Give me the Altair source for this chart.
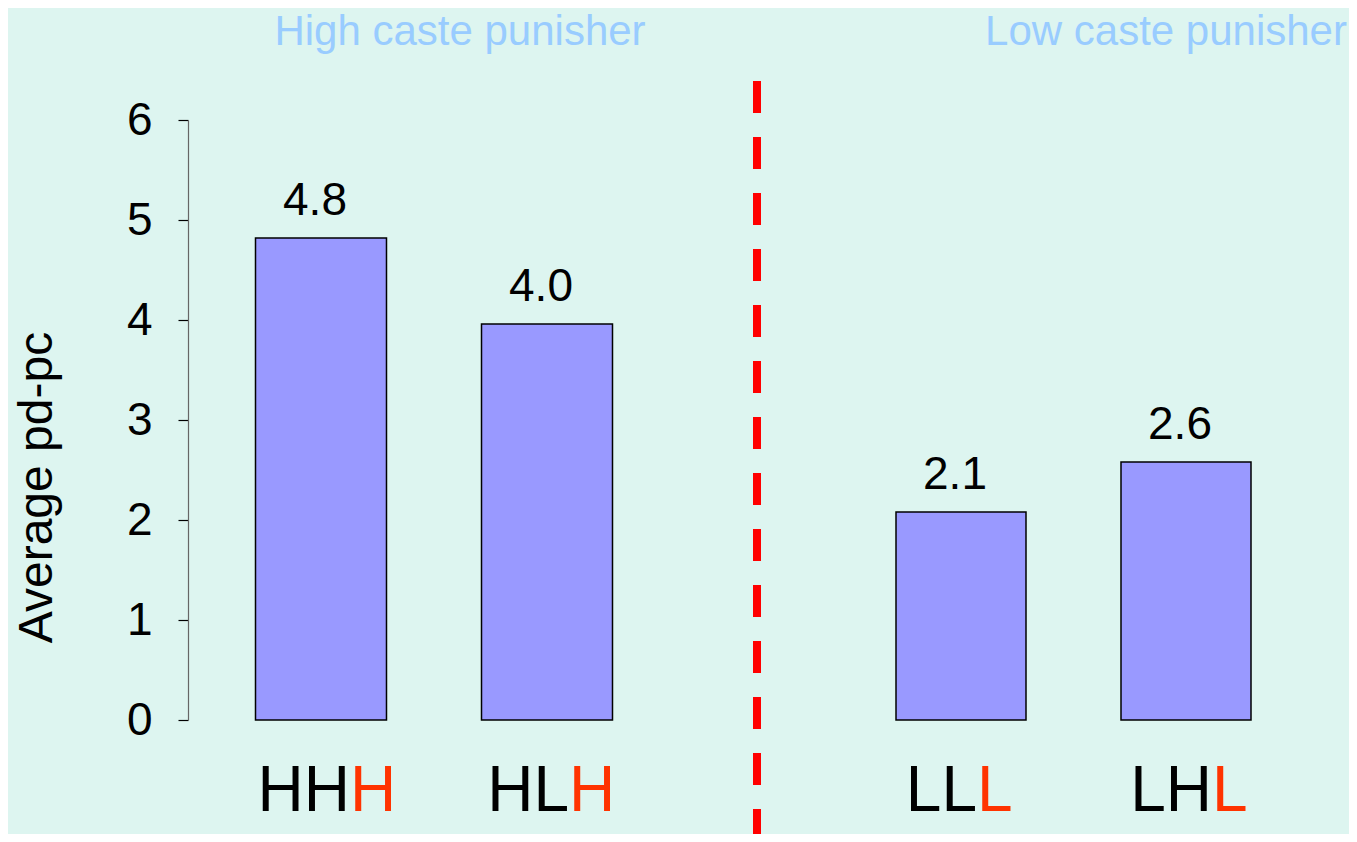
import altair as alt
import pandas as pd

# ---- data ----
groups = ["High caste punisher", "High caste punisher", "Low caste punisher", "Low caste punisher"]
bars = ["HHH", "HLH", "LLL", "LHL"]
values = [4.82, 3.96, 2.08, 2.58]
prefixes = ["HH", "HL", "LL", "LH"]
suffixes = ["H", "H", "L", "L"]
group_titles = ["High caste punisher", "Low caste punisher"]
y_ticks = [0, 1, 2, 3, 4, 5, 6]

df = pd.DataFrame({"group": groups, "bar": bars, "value": values,
                   "prefix": prefixes, "suffix": suffixes})

FONT = "Liberation Sans"
BG = "#ddf5f0"
W, H = 1161, 600

# band-scale layout for each half (pixel range of the band scale, padding)
scale_opts = {
    "High caste punisher": dict(range=[67.5, 424.5], paddingInner=0.4204, paddingOuter=0),
    "Low caste punisher": dict(range=[708, 1063], paddingInner=0.4222, paddingOuter=0),
}
split_dx = {"HHH": 29, "HLH": 22, "LLL": 16, "LHL": 26}

y_axis = alt.Axis(values=y_ticks, format="d", grid=False, tickSize=10, tickColor="black",
                  domainColor="#666666", domainWidth=1.2, tickWidth=1.2,
                  labelFontSize=46, labelFont=FONT, labelColor="black",
                  labelPadding=26, titleFontSize=48, titleFont=FONT,
                  titleFontWeight="normal", titleColor="black",
                  titleX=-151, titleY=367, titleAngle=-90,
                  titleAlign="center", titleBaseline="middle")
y_enc = alt.Y("value:Q", title="Average pd-pc",
              scale=alt.Scale(domain=[0, 6], nice=False), axis=y_axis)

halves = []
for g in group_titles:
    members = [b for b, gg in zip(bars, groups) if gg == g]
    x_enc = alt.X("bar:N", sort=members, axis=None, title=None,
                  scale=alt.Scale(domain=members, **scale_opts[g]))
    base = alt.Chart(df).transform_filter(alt.datum.group == g)
    layers = [
        base.mark_bar(color="#9999ff", stroke="black", strokeWidth=1.5).encode(x=x_enc, y=y_enc),
        base.mark_text(font=FONT, fontSize=46, color="black", baseline="alphabetic",
                       dy=-23, dx=-6).encode(
            x=x_enc, y="value:Q", text=alt.Text("value:Q", format=".1f")),
    ]
    for b in members:
        sub = base.transform_filter(alt.datum.bar == b)
        layers.append(sub.mark_text(font=FONT, fontSize=64, color="black", align="right",
                                    baseline="alphabetic", dx=split_dx[b], dy=91).encode(
            x=x_enc, y=alt.datum(0), text="prefix:N"))
        layers.append(sub.mark_text(font=FONT, fontSize=64, color="#ff3300", align="left",
                                    baseline="alphabetic", dx=split_dx[b], dy=91).encode(
            x=x_enc, y=alt.datum(0), text="suffix:N"))
    halves.append(alt.layer(*layers))

title_df = pd.DataFrame({"t": group_titles})
title_x = {"High caste punisher": 272, "Low caste punisher": 978}
title_layers = []
for t in group_titles:
    title_layers.append(
        alt.Chart(title_df).transform_filter(alt.datum.t == t).mark_text(
            font=FONT, fontSize=42, color="#99ccff", baseline="alphabetic", align="center"
        ).encode(x=alt.value(title_x[t]), y=alt.value(-75), text="t:N"))

divider = alt.Chart(title_df).mark_rule(color="#ff0000", strokeWidth=8, strokeDash=[32, 24],
                                        strokeCap="butt").encode(
    x=alt.value(569), y=alt.value(-39), y2=alt.value(730))

chart = alt.layer(divider, *halves, *title_layers).resolve_scale(x="independent").properties(
    width=W, height=H,
    autosize=alt.AutoSizeParams(type="none"),
    padding={"left": 180, "top": 112, "right": 0, "bottom": 114},
    background=BG,
).configure_view(stroke=None)

chart.save("out.html", embed_options={"renderer": "svg", "actions": False})
